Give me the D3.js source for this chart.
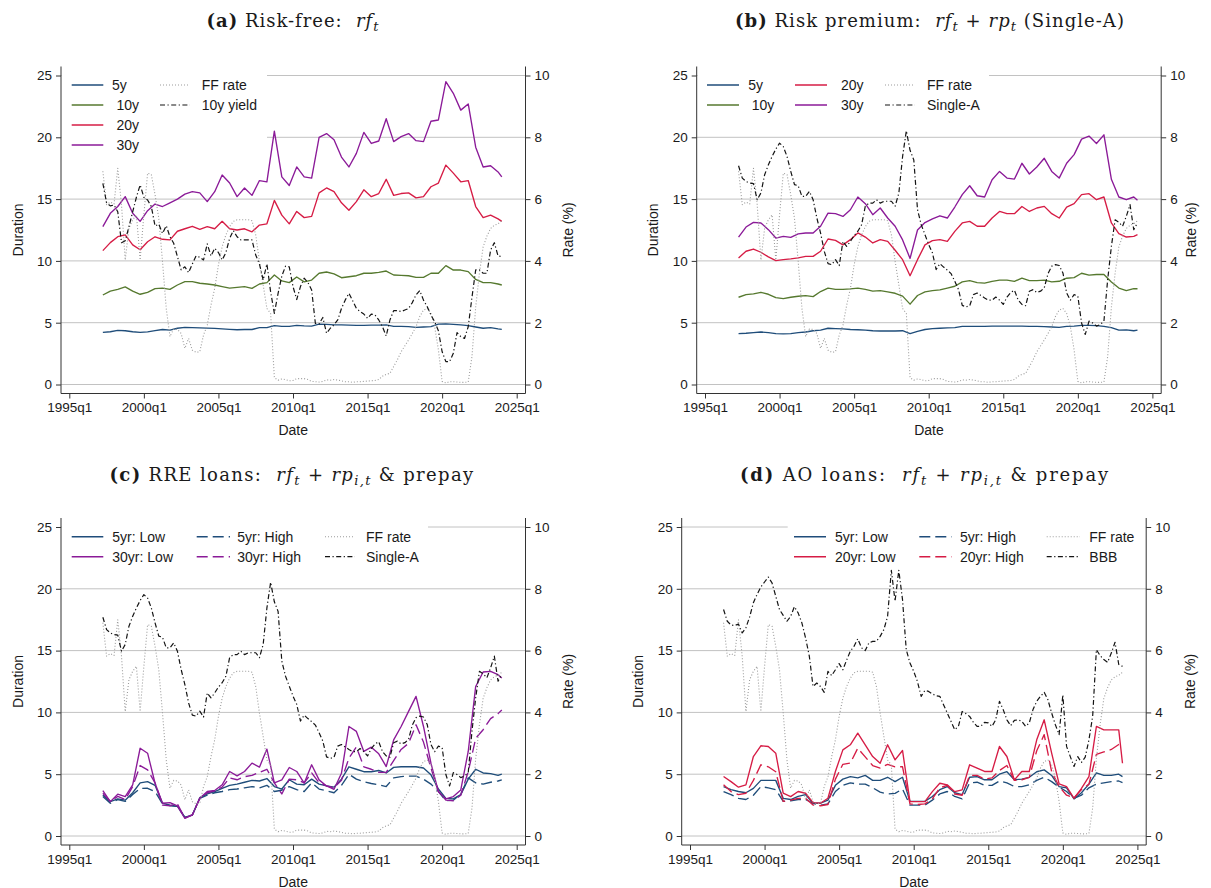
<!DOCTYPE html>
<html lang="en">
<head>
<meta charset="UTF-8">
<title>Duration and rates</title>
<script src="https://d3js.org/d3.v7.min.js"></script>
<style>
  body { margin: 0; background: #fff; }
  svg text { font-family: "Liberation Sans", Arial, Helvetica, sans-serif; fill: #1a1a1a; }
  svg text.title { font-family: "DejaVu Serif", "Liberation Serif", serif; white-space: pre; }
</style>
</head>
<body>
<div id="chart"></div>
<script>
// ---- dates -------------------------------------------------------------
// rates are quarterly (1997q2 .. 2024q1), durations read every second quarter
const quarters = d3.range(1997.25, 2024.01, 0.25);
const halfYears = d3.range(1997.25, 2023.76, 0.5).concat([2024]);
const xTicks = d3.range(1995, 2026, 5);
const durTicks = [0, 5, 10, 15, 20, 25];
const rateTicks = [0, 2, 4, 6, 8, 10];

// ---- rates (%), quarterly ---------------------------------------------
const ffRate = [6.9, 5.82, 5.9,
  5.84, 7.0, 5.82, 4.03,  5.06, 5.33, 5.49, 4.03,  5.49, 6.84, 6.79, 6.14,  5.38, 3.98, 2.46, 1.55,
  1.8, 1.78, 1.65, 1.17,  1.49, 1.11, 1.04, 1.06,  1.6, 1.92, 2.57, 3.11,  3.87, 4.46, 4.84, 5.11,
  5.28, 5.33, 5.33, 5.33,  5.33, 5.3, 4.84, 3.98,  3.22, 2.46, 2.3, 0.22,  0.14, 0.18, 0.16, 0.12,
  0.13, 0.19, 0.19, 0.19,  0.16, 0.1, 0.09, 0.08,  0.1, 0.15, 0.14, 0.16,  0.14, 0.12, 0.09, 0.09,
  0.07, 0.09, 0.09, 0.1,  0.11, 0.12, 0.13, 0.16,  0.27, 0.33, 0.36, 0.58,  0.8, 1.06, 1.25, 1.44,
  1.65, 1.87, 2.2, 2.41,  2.46, 2.3, 1.87, 1.12,  0.1, 0.05, 0.09, 0.09,  0.08, 0.07, 0.07, 0.08,
  0.9, 2.5, 3.6, 4.45,  4.8, 5.05, 5.15, 5.2,
  5.3];
const yield10y = [6.51, 5.88, 5.78,
  5.81, 5.59, 4.59, 4.65,  5.11, 5.59, 6.06, 6.46,  6.06, 5.97, 5.76, 5.13,  5.19, 4.89, 5.14, 4.78,
  4.57, 4.14, 3.71, 3.81,  3.62, 3.9, 4.16, 4.12,  4.03, 4.55, 4.16, 4.41,  4.27, 4.03, 4.27, 4.73,
  4.98, 4.78, 4.68, 4.68,  4.68, 4.68, 4.19, 3.9,  3.38, 3.9, 3.0, 2.3,  2.95, 3.51, 3.83, 3.81,
  3.17, 2.75, 3.17, 3.44,  3.3, 3.06, 1.98, 1.96,  2.17, 1.66, 1.82, 1.93,  2.09, 2.46, 2.73, 2.95,
  2.71, 2.46, 2.36, 2.28,  2.14, 2.28, 2.25, 2.09,  1.87, 1.57, 2.09, 2.39,  2.39, 2.36, 2.41, 2.46,
  2.65, 2.9, 3.04, 2.73,  2.52, 2.25, 2.03, 1.74,  1.06, 0.74, 0.74, 1.01,  1.68, 1.55, 1.49, 1.87,
  2.82, 3.71, 3.71, 3.6,  3.6, 4.35, 4.59, 4.16,
  4.14];
const singleA = [7.08, 6.68, 6.57,
  6.52, 6.5, 5.98, 6.2,  6.79, 7.11, 7.38, 7.62,  7.81, 7.7, 7.38, 6.9,  6.47, 6.43, 6.09, 6.09,
  6.25, 5.98, 5.39, 4.9,  4.31, 3.91, 3.88, 4.04,  3.85, 4.63, 4.47, 4.63,  4.82, 4.96, 5.17, 5.77,
  5.87, 5.87, 5.98, 5.87,  5.93, 5.93, 5.93, 5.77,  6.2, 7.38, 8.21, 7.58,  7.27, 5.66, 5.17, 4.85,
  4.53, 4.26, 3.72, 3.91,  3.8, 3.7, 3.59, 3.34,  3.07, 2.56, 2.51, 2.55,  2.91, 2.96, 2.88, 2.8,
  2.73, 2.73, 2.83, 2.73,  2.59, 2.83, 2.98, 3.05,  2.73, 2.59, 2.55, 3.02,  3.07, 2.98, 3.02, 3.13,
  3.59, 3.83, 3.88, 3.85,  3.61, 2.96, 2.73, 2.91,  2.86, 1.99, 1.62, 2.05,  1.99, 1.89, 1.94, 2.05,
  3.39, 4.47, 5.33, 5.25,  5.12, 5.44, 5.82, 5.01,
  5.23];
const bbb = [7.33, 6.95, 6.83,
  6.81, 6.86, 6.57, 6.74,  7.09, 7.55, 7.82, 8.06,  8.22, 8.38, 8.19, 7.76,  7.33, 7.14, 6.95, 7.11,
  7.42, 7.22, 6.9, 6.41,  5.82, 4.84, 4.95, 4.84,  4.65, 5.33, 5.19, 5.38,  5.58, 5.38, 5.69, 5.98,
  6.14, 6.38, 6.09, 6.0,  6.25, 6.3, 6.3, 6.46,  6.68, 7.11, 8.6, 7.6,  8.6, 7.65, 6.03, 5.6,
  5.33, 5.0, 4.52, 4.71,  4.68, 4.6, 4.54, 4.52,  4.25, 3.98, 3.71, 3.44,  3.55, 4.03, 3.96, 3.87,
  3.68, 3.55, 3.55, 3.68,  3.66, 3.55, 3.76, 4.36,  4.09, 3.76, 3.57, 3.74,  3.76, 3.71, 3.55, 3.66,
  4.09, 4.36, 4.52, 4.65,  4.41, 3.98, 3.6, 3.28,  4.57, 2.9, 2.57, 2.25,  2.57, 2.38, 2.55, 3.11,
  3.87, 6.03, 5.84, 5.71,  5.62, 5.92, 6.27, 5.55,
  5.49];

// ---- (a) risk-free durations --------------------------------------------
const rf5y = [4.22, 4.27, 4.38, 4.35, 4.27, 4.22, 4.26, 4.36, 4.45, 4.4,
  4.55, 4.62, 4.6, 4.58, 4.56, 4.54, 4.5, 4.46, 4.43, 4.45,
  4.45, 4.6, 4.6, 4.76, 4.7, 4.7, 4.78, 4.74, 4.72, 4.88,
  4.86, 4.82, 4.82, 4.8, 4.78, 4.78, 4.8, 4.8, 4.82, 4.7,
  4.7, 4.68, 4.62, 4.65, 4.68, 4.88, 4.9, 4.86, 4.82, 4.76,
  4.65, 4.55, 4.6, 4.5, 4.46];
const rf10y = [7.24, 7.56, 7.7, 7.9, 7.56, 7.3, 7.45, 7.76, 7.8, 7.7,
  8.05, 8.32, 8.32, 8.19, 8.13, 8.05, 7.92, 7.8, 7.86, 7.92,
  7.78, 8.13, 8.24, 8.86, 8.38, 8.24, 8.7, 8.3, 8.45, 9.0,
  9.1, 8.95, 8.64, 8.72, 8.8, 9.0, 9.0, 9.07, 9.18, 8.86,
  8.83, 8.8, 8.67, 8.67, 9.0, 9.0, 9.62, 9.26, 9.26, 9.13,
  8.5, 8.24, 8.24, 8.13, 8.05];
const rf20y = [10.83, 11.48, 11.96, 12.1, 11.3, 10.9, 11.55, 11.95, 11.75, 11.7,
  12.4, 12.6, 12.8, 12.55, 12.77, 12.6, 13.2, 12.6, 12.5, 12.6,
  12.35, 12.9, 13.0, 14.9, 13.7, 13.0, 14.0, 13.5, 13.6, 15.5,
  15.9, 15.6, 14.7, 14.1, 14.8, 15.75, 15.2, 15.45, 16.6, 15.3,
  15.45, 15.5, 15.1, 15.2, 16.0, 16.3, 17.75, 17.1, 16.4, 16.5,
  14.4, 13.5, 13.7, 13.4, 13.2];
const rf30y = [12.77, 13.85, 14.4, 15.2, 13.85, 13.2, 14.06, 14.6, 14.4, 14.7,
  15.0, 15.4, 15.6, 15.5, 14.8, 15.6, 16.95, 16.3, 15.2, 15.9,
  15.3, 16.5, 16.4, 20.5, 16.8, 16.1, 17.6, 16.8, 16.7, 20.0,
  20.3, 19.8, 18.4, 17.6, 18.7, 20.4, 19.5, 19.7, 21.5, 19.65,
  20.05, 20.3, 19.73, 19.65, 21.3, 21.4, 24.5, 23.56, 22.2, 22.7,
  19.2, 17.6, 17.7, 17.2, 16.8];

// ---- (b) risk premium durations -----------------------------------------
const rp5y = [4.12, 4.15, 4.2, 4.25, 4.2, 4.12, 4.1, 4.12, 4.2, 4.25,
  4.35, 4.4, 4.55, 4.52, 4.5, 4.45, 4.43, 4.4, 4.35, 4.33,
  4.33, 4.33, 4.35, 4.12, 4.3, 4.45, 4.52, 4.55, 4.58, 4.6,
  4.7, 4.7, 4.7, 4.7, 4.72, 4.72, 4.72, 4.72, 4.72, 4.7,
  4.7, 4.68, 4.65, 4.62, 4.7, 4.72, 4.78, 4.78, 4.76, 4.7,
  4.6, 4.4, 4.42, 4.35, 4.4];
const rp10y = [7.06, 7.27, 7.33, 7.46, 7.3, 7.03, 6.95, 7.06, 7.14, 7.19,
  7.11, 7.52, 7.8, 7.7, 7.7, 7.74, 7.8, 7.7, 7.55, 7.6,
  7.5, 7.38, 7.15, 6.5, 7.2, 7.5, 7.6, 7.66, 7.8, 7.95,
  8.3, 8.4, 8.24, 8.2, 8.35, 8.45, 8.45, 8.35, 8.6, 8.4,
  8.4, 8.45, 8.3, 8.35, 8.6, 8.65, 9.0, 8.85, 8.9, 8.9,
  8.3, 7.8, 7.6, 7.75, 7.75];
const rp20y = [10.24, 10.78, 10.96, 10.7, 10.32, 10.02, 10.1, 10.16, 10.24, 10.37,
  10.37, 10.78, 11.77, 11.66, 11.3, 11.72, 12.26, 11.93, 11.45, 11.72,
  11.58, 10.86, 10.1, 8.8, 10.1, 11.3, 11.64, 11.72, 11.58, 12.39,
  13.07, 13.2, 12.8, 12.8, 13.47, 14.0, 13.82, 13.82, 14.4, 14.0,
  14.28, 14.41, 13.82, 13.47, 14.36, 14.63, 15.36, 15.44, 14.95, 15.17,
  13.07, 12.2, 11.93, 11.99, 12.12];
const rp30y = [11.93, 12.74, 13.12, 13.07, 12.53, 11.85, 11.99, 11.9, 12.18, 12.26,
  12.26, 12.8, 13.87, 13.82, 13.6, 14.14, 15.17, 14.63, 13.74, 14.28,
  13.47, 12.8, 11.7, 10.2, 12.5, 13.1, 13.4, 13.65, 13.47, 14.36,
  15.36, 16.08, 15.27, 15.17, 16.57, 17.24, 16.7, 16.62, 17.9, 17.03,
  17.6, 18.3, 17.24, 16.7, 17.9, 18.6, 19.85, 20.1, 19.5, 20.2,
  16.6, 15.17, 14.95, 15.17, 14.9];

// ---- (c) RRE loans ------------------------------------------------------
const rre5Low = [3.32, 2.78, 3.0, 2.9, 3.5, 4.3, 4.4, 4.1, 2.65, 2.5,
  2.4, 1.5, 1.7, 3.1, 3.4, 3.6, 3.85, 4.1, 4.2, 4.35,
  4.5, 4.45, 4.65, 4.0, 3.8, 4.55, 4.2, 4.15, 4.6, 4.2,
  4.05, 3.95, 4.6, 5.6, 5.4, 5.2, 5.2, 5.3, 5.1, 5.55,
  5.6, 5.6, 5.6, 5.5, 4.95, 3.8, 3.05, 3.0, 3.35, 4.6,
  5.4, 5.1, 5.05, 4.9, 5.0];
const rre5High = [3.2, 2.65, 2.95, 2.8, 3.35, 3.85, 3.86, 3.6, 2.6, 2.45,
  2.4, 1.5, 1.7, 3.05, 3.3, 3.5, 3.6, 3.75, 3.8, 3.9,
  4.0, 3.9, 4.1, 3.6, 3.7, 4.0, 3.75, 3.6, 4.3, 3.8,
  3.65, 3.5, 4.1, 5.0, 4.6, 4.4, 4.25, 4.15, 4.0, 4.7,
  4.8, 4.85, 4.85, 4.6, 4.2, 3.6, 2.85, 2.9, 3.4, 4.7,
  4.3, 4.2, 4.35, 4.45, 4.54];
const rre30Low = [3.68, 2.78, 3.38, 3.19, 4.14, 7.1, 6.7, 4.27, 2.65, 2.7,
  2.43, 1.43, 1.7, 3.05, 3.6, 3.68, 4.14, 5.22, 4.86, 5.22,
  5.9, 5.57, 7.03, 4.3, 4.54, 5.54, 5.22, 4.27, 5.76, 4.54,
  4.05, 3.78, 5.08, 8.86, 8.46, 6.84, 7.19, 6.65, 5.62, 7.78,
  8.86, 10.08, 11.3, 8.86, 5.89, 3.59, 3.0, 3.19, 3.73, 6.84,
  12.1, 13.27, 13.32, 13.05, 12.78];
const rre30High = [3.46, 2.8, 3.2, 2.95, 4.0, 5.7, 5.35, 4.3, 2.5, 2.45,
  2.6, 1.45, 1.7, 3.05, 3.5, 3.65, 3.95, 4.7, 4.55, 4.8,
  4.9, 5.15, 5.4, 4.3, 3.4, 4.6, 4.55, 4.3, 5.1, 4.3,
  4.05, 3.9, 4.5, 6.3, 7.2, 5.6, 5.4, 5.15, 5.15, 6.1,
  7.0, 7.5, 9.0, 7.6, 5.5, 3.6, 2.9, 2.85, 3.3, 5.2,
  7.9, 8.6, 9.5, 9.9, 10.2];

// ---- (d) AO loans -------------------------------------------------------
const ao5Low = [4.0, 3.75, 3.6, 3.5, 3.85, 4.5, 4.5, 4.5, 3.05, 2.95,
  3.2, 3.35, 2.65, 2.65, 2.9, 4.1, 4.6, 4.8, 4.7, 4.9,
  4.5, 4.5, 4.75, 4.4, 4.75, 2.8, 2.8, 2.8, 3.2, 3.75,
  4.0, 3.5, 3.35, 4.75, 4.8, 4.55, 4.55, 5.0, 5.2, 4.55,
  4.6, 4.75, 5.2, 5.35, 4.9, 4.0, 3.9, 3.0, 3.5, 4.2,
  5.1, 4.9, 4.9, 5.0, 4.8];
const ao5High = [3.6, 3.35, 3.05, 2.95, 3.3, 4.0, 3.9, 3.75, 2.8, 2.85,
  2.95, 2.95, 2.65, 2.5, 2.6, 3.6, 4.1, 4.3, 4.2, 4.2,
  3.9, 3.55, 3.4, 3.45, 3.8, 2.5, 2.5, 2.5, 2.9, 3.4,
  3.6, 3.2, 3.0, 4.3, 4.35, 4.1, 4.1, 4.45, 4.3, 4.0,
  4.0, 4.15, 4.5, 4.75, 4.4, 3.95, 3.6, 3.05, 3.3, 3.9,
  4.2, 4.3, 4.4, 4.45, 4.32];
const ao20Low = [4.81, 4.4, 3.95, 4.14, 6.43, 7.3, 7.24, 6.7, 3.46, 3.19,
  3.6, 3.46, 2.7, 2.65, 3.05, 5.22, 6.97, 7.38, 8.32, 7.38,
  6.43, 5.89, 7.38, 6.16, 6.92, 2.78, 2.78, 2.78, 3.59, 4.27,
  4.14, 3.59, 3.73, 5.76, 5.49, 5.22, 5.22, 7.24, 6.43, 4.54,
  5.22, 5.22, 7.78, 9.4, 6.7, 4.22, 4.0, 3.05, 3.86, 4.81,
  8.86, 8.59, 8.59, 8.59, 5.89];
const ao20High = [4.14, 3.6, 3.35, 3.46, 4.5, 5.76, 5.6, 5.2, 2.8, 2.9,
  3.05, 3.05, 2.5, 2.45, 2.55, 4.6, 5.8, 5.9, 7.1, 6.4,
  5.7, 5.5, 5.8, 5.6, 5.6, 2.6, 2.55, 2.6, 3.0, 3.9,
  4.1, 3.4, 3.3, 4.9, 4.9, 4.6, 4.7, 5.3, 5.7, 4.5,
  4.55, 4.75, 6.9, 8.2, 5.2, 4.0, 3.3, 3.1, 3.75, 4.2,
  6.6, 6.8, 7.0, 7.4, 7.3];

// ---- styles & layout ----------------------------------------------------
const C = { blue: "#1f4d7a", green: "#56792f", red: "#d61c45", purple: "#8b1a98", gray: "#9c9c9c", black: "#141414" };
const LS = {
  solid:   { dash: null, width: 1.35 },
  dashed:  { dash: "11,5", width: 1.35 },
  dot:     { dash: "1,2", width: 1.1 },
  dashdot: { dash: "5,2.5,1.2,2.5", width: 1.2 }
};
// panel frame, in panel (a) pixel coordinates
const G = { axL: 61, axR: 525.5, axTop: 66.5, axBot: 393.5, x0: 69.3, x1: 516.7, y0: 384.5, y25: 75.5 };

const ff = { name: "FF rate", dates: quarters, values: ffRate, axis: "R", color: C.gray, ls: "dot" };

const panels = [
  { dx: 0, dy: 0, title: [["(a)", "b"], [" Risk-free:  ", "r"], ["rf", "i"], ["t", "sub"]],
    titleX: 293, titleY: 26.7, titleW: 173, durX: 18, rateX: 568,
    series: [
      { name: "5y", dates: halfYears, values: rf5y, axis: "L", color: C.blue, ls: "solid" },
      { name: "10y", dates: halfYears, values: rf10y, axis: "L", color: C.green, ls: "solid" },
      { name: "20y", dates: halfYears, values: rf20y, axis: "L", color: C.red, ls: "solid" },
      { name: "30y", dates: halfYears, values: rf30y, axis: "L", color: C.purple, ls: "solid" },
      ff,
      { name: "10y yield", dates: quarters, values: yield10y, axis: "R", color: C.black, ls: "dashdot" }
    ],
    legend: { box: [61.5, 67, 267, 156], rows: [85, 105, 125, 145],
      cols: [{ l0: 71.7, l1: 103.3, tx: 116.5 }, { l0: 160, l1: 190, tx: 201.7 }],
      items: [["5y", 0, 0, 112], ["10y", 0, 1], ["20y", 0, 2], ["30y", 0, 3], ["FF rate", 1, 0], ["10y yield", 1, 1]] } },
  { dx: 635.7, dy: 0, title: [["(b)", "b"], [" Risk premium:  ", "r"], ["rf", "i"], ["t", "sub"], [" + ", "r"], ["rp", "i"], ["t", "sub"], [" (Single-A)", "r"]],
    titleX: 930, titleY: 26.7, titleW: 390, durX: 653, rateX: 1191,
    series: [
      { name: "5y", dates: halfYears, values: rp5y, axis: "L", color: C.blue, ls: "solid" },
      { name: "10y", dates: halfYears, values: rp10y, axis: "L", color: C.green, ls: "solid" },
      { name: "20y", dates: halfYears, values: rp20y, axis: "L", color: C.red, ls: "solid" },
      { name: "30y", dates: halfYears, values: rp30y, axis: "L", color: C.purple, ls: "solid" },
      ff,
      { name: "Single-A", dates: quarters, values: singleA, axis: "R", color: C.black, ls: "dashdot" }
    ],
    legend: { box: [61.8, 67, 353.3, 117], rows: [85, 105],
      cols: [{ l0: 71.3, l1: 103.3, tx: 116 }, { l0: 159.3, l1: 191.3, tx: 205.3 }, { l0: 249.3, l1: 279.3, tx: 291.3 }],
      items: [["5y", 0, 0, 112.6], ["10y", 0, 1], ["20y", 1, 0], ["30y", 1, 1], ["FF rate", 2, 0], ["Single-A", 2, 1]] } },
  { dx: 0, dy: 451.5, title: [["(c)", "b"], [" RRE loans:  ", "r"], ["rf", "i"], ["t", "sub"], [" + ", "r"], ["rp", "i"], ["i,t", "sub"], [" & prepay", "r"]],
    titleX: 292, titleY: 481, titleW: 365, durX: 18, rateX: 568,
    series: [
      { name: "5yr: Low", dates: halfYears, values: rre5Low, axis: "L", color: C.blue, ls: "solid" },
      { name: "5yr: High", dates: halfYears, values: rre5High, axis: "L", color: C.blue, ls: "dashed" },
      { name: "30yr: Low", dates: halfYears, values: rre30Low, axis: "L", color: C.purple, ls: "solid" },
      { name: "30yr: High", dates: halfYears, values: rre30High, axis: "L", color: C.purple, ls: "dashed" },
      ff,
      { name: "Single-A", dates: quarters, values: singleA, axis: "R", color: C.black, ls: "dashdot" }
    ],
    legend: { box: [61.5, 67, 428, 117], rows: [85.2, 105.2],
      cols: [{ l0: 71.7, l1: 103.3, tx: 112.3 }, { l0: 196.7, l1: 230, tx: 237.3 }, { l0: 325, l1: 355, tx: 366 }],
      items: [["5yr: Low", 0, 0], ["30yr: Low", 0, 1], ["5yr: High", 1, 0], ["30yr: High", 1, 1], ["FF rate", 2, 0], ["Single-A", 2, 1]] } },
  { dx: 620.7, dy: 451.5, title: [["(d)", "b"], [" AO loans:  ", "r"], ["rf", "i"], ["t", "sub"], [" + ", "r"], ["rp", "i"], ["i,t", "sub"], [" & prepay", "r"]],
    titleX: 925, titleY: 481, titleW: 370, durX: 638, rateX: 1190,
    series: [
      { name: "5yr: Low", dates: halfYears, values: ao5Low, axis: "L", color: C.blue, ls: "solid" },
      { name: "5yr: High", dates: halfYears, values: ao5High, axis: "L", color: C.blue, ls: "dashed" },
      { name: "20yr: Low", dates: halfYears, values: ao20Low, axis: "L", color: C.red, ls: "solid" },
      { name: "20yr: High", dates: halfYears, values: ao20High, axis: "L", color: C.red, ls: "dashed" },
      ff,
      { name: "BBB", dates: quarters, values: bbb, axis: "R", color: C.black, ls: "dashdot" }
    ],
    legend: { box: [167, 67, 525, 117], rows: [85.2, 105.2],
      cols: [{ l0: 173.3, l1: 205.3, tx: 214.3 }, { l0: 298.6, l1: 331, tx: 339.3 }, { l0: 426, l1: 459.3, tx: 468.6 }],
      items: [["5yr: Low", 0, 0], ["20yr: Low", 0, 1], ["5yr: High", 1, 0], ["20yr: High", 1, 1], ["FF rate", 2, 0], ["BBB", 2, 1]] } }
];

const svg = d3.select("#chart").append("svg").attr("width", 1211).attr("height", 888);
svg.append("rect").attr("width", 1211).attr("height", 888).attr("fill", "#fff");

function styleLine(sel, s) {
  sel.attr("fill", "none").attr("stroke", s.color)
    .attr("stroke-width", LS[s.ls].width)
    .attr("stroke-dasharray", LS[s.ls].dash)
    .attr("stroke-linejoin", "round");
}

function drawTitle(p) {
  const t = svg.append("text").attr("class", "title")
    .attr("x", p.titleX).attr("y", p.titleY)
    .attr("text-anchor", "middle").attr("font-size", 18);
  let down = false;
  p.title.forEach(([s, k]) => {
    const sp = t.append("tspan").text(s);
    if (k === "b") sp.attr("font-weight", "bold");
    if (k === "i" || k === "sub") sp.attr("font-style", "italic");
    if (k === "sub") { sp.attr("font-size", 13).attr("dy", 4); down = true; }
    else if (down) { sp.attr("dy", -4); down = false; }
  });
  // stretch spacing so the title has the width of the original one
  const w = t.node().getComputedTextLength();
  const n = p.title.reduce((a, d) => a + d[0].length, 0);
  t.attr("letter-spacing", Math.max(0, (p.titleW - w) / n));
}

function drawPanel(p) {
  const g = svg.append("g").attr("transform", `translate(${p.dx},${p.dy})`);
  const x = d3.scaleLinear().domain([1995, 2025]).range([G.x0, G.x1]);
  const yL = d3.scaleLinear().domain([0, 25]).range([G.y0, G.y25]);
  const yR = d3.scaleLinear().domain([0, 10]).range([G.y0, G.y25]);

  // horizontal grid at the duration ticks
  g.append("g").selectAll("line").data(durTicks).join("line")
    .attr("x1", G.axL).attr("x2", G.axR)
    .attr("y1", d => yL(d)).attr("y2", d => yL(d))
    .attr("stroke", "#c2c2c2").attr("stroke-width", 1);

  // series
  const line = d3.line();
  p.series.forEach(s => {
    const y = s.axis === "R" ? yR : yL;
    const pts = s.dates.map((t, i) => [x(t), y(s.values[i])]);
    g.append("path").datum(pts).attr("d", line).call(styleLine, s);
  });

  // legend
  const L = p.legend;
  g.append("rect").attr("x", L.box[0]).attr("y", L.box[1])
    .attr("width", L.box[2] - L.box[0]).attr("height", L.box[3] - L.box[1]).attr("fill", "#fff");
  L.items.forEach(([name, c, r, tx]) => {
    const s = p.series.find(d => d.name === name);
    const col = L.cols[c], yy = L.rows[r];
    g.append("line").attr("x1", col.l0).attr("x2", col.l1).attr("y1", yy).attr("y2", yy).call(styleLine, s);
    g.append("text").attr("x", tx !== undefined ? tx : col.tx).attr("y", yy).attr("dy", "0.36em")
      .attr("font-size", 14).text(name);
  });

  // axes
  const axisColor = "#333";
  const fixAxis = sel => {
    sel.select(".domain").remove();
    sel.attr("color", axisColor).attr("font-family", null).attr("font-size", null);
    sel.selectAll("text").attr("font-size", 13.5).style("fill", "#1a1a1a");
  };
  g.append("g").attr("transform", `translate(${G.axL},0)`)
    .call(d3.axisLeft(yL).tickValues(durTicks).tickSize(5).tickPadding(4)).call(fixAxis);
  g.append("g").attr("transform", `translate(${G.axR},0)`)
    .call(d3.axisRight(yR).tickValues(rateTicks).tickSize(5).tickPadding(4)).call(fixAxis);
  g.append("g").attr("transform", `translate(0,${G.axBot})`)
    .call(d3.axisBottom(x).tickValues(xTicks).tickFormat(d => d + "q1").tickSize(5).tickPadding(4)).call(fixAxis);

  const frame = [[G.axL, G.axTop, G.axL, G.axBot], [G.axR, G.axTop, G.axR, G.axBot], [G.axL, G.axBot, G.axR, G.axBot]];
  g.append("g").selectAll("line").data(frame).join("line")
    .attr("x1", d => d[0]).attr("y1", d => d[1]).attr("x2", d => d[2]).attr("y2", d => d[3])
    .attr("stroke", axisColor).attr("stroke-width", 1);

  // axis titles
  const midY = 230;
  g.append("text").attr("transform", `translate(${p.durX - p.dx},${midY}) rotate(-90)`)
    .attr("text-anchor", "middle").attr("dy", "0.35em").attr("font-size", 14).text("Duration");
  g.append("text").attr("transform", `translate(${p.rateX - p.dx},${midY}) rotate(-90)`)
    .attr("text-anchor", "middle").attr("dy", "0.35em").attr("font-size", 14).text("Rate (%)");
  g.append("text").attr("x", (G.axL + G.axR) / 2).attr("y", 435)
    .attr("text-anchor", "middle").attr("font-size", 14).text("Date");

  drawTitle(p);
}

panels.forEach(drawPanel);
</script>
</body>
</html>
